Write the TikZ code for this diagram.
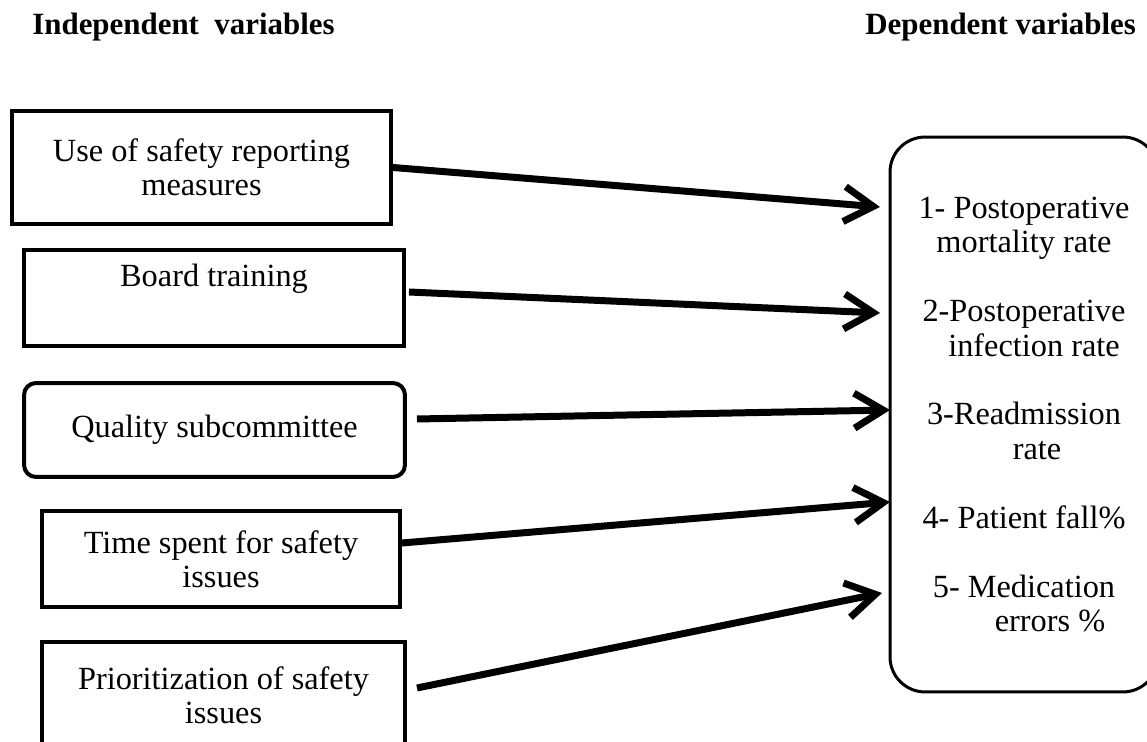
\documentclass[tikz,border=0pt]{standalone}
\usepackage{fontspec}
\setmainfont{Liberation Serif}
\usetikzlibrary{arrows.meta,positioning,calc}
\tikzset{
block/.style = {draw, line width=0.08cm, rectangle, align=center, inner sep=0pt, font=\fontsize{18.4}{19.6}\selectfont},
rblock/.style = {block, rounded corners=0.24cm},
outbox/.style = {draw, line width=0.06cm, rectangle, rounded corners=0.7cm, align=center, inner sep=0pt, font=\fontsize{18.4}{19.6}\selectfont},
head/.style = {inner sep=0pt, font=\bfseries\fontsize{17.6}{20}\selectfont},
link/.style = {-{Straight Barb[length=0.58cm,width=0.7cm]}, line width=0.14cm}
}
\begin{document}
\begin{tikzpicture}[x=0.02cm, y=-0.02cm]
  \useasboundingbox (0,0) rectangle (1147,742);
  \clip (0,0) rectangle (1147,742);

  \node [head, anchor=base west]                           (indep)  at (32,35)       {Independent~ variables};
  \node [head, anchor=base west]                           (dep)    at (865,35)      {Dependent variables};

  \node [block, minimum width=7.58cm, minimum height=2.26cm] (usea)   at (201.5,167.5) {Use of safety reporting\\measures};
  \node [block, minimum width=7.6cm, minimum height=1.92cm]  (board)  at (214,298)     {Board training\\ \strut};
  \node [rblock, minimum width=7.62cm, minimum height=1.88cm] (qsub)  at (214.5,430)   {Quality subcommittee};
  \node [block, minimum width=7.16cm, minimum height=1.92cm] (tspent) at (221,559)     {Time spent for safety\\issues};
  \node [block, minimum width=7.26cm, minimum height=2.12cm] (prior)  at (223.5,695)   {Prioritization of safety\\issues};

  \node [outbox, minimum width=5.36cm, minimum height=11.1cm] (dvar)  at (1024,414.5)
    {1- Postoperative\\mortality rate\\[19.6pt]
     2-Postoperative\\\hspace{0.4cm}infection rate\\[19.6pt]
     3-Readmission\\\hspace{0.52cm}rate\\[19.6pt]
     4- Patient fall\%\\[19.6pt]
     5- Medication\\\hspace{1.04cm}errors \%};

  \coordinate (t1) at (880,207);
  \coordinate (t2) at (880,313);
  \coordinate (t3) at (890,410);
  \coordinate (t4) at (890,502);
  \coordinate (t5) at (882,593);

  \draw [link] (usea.east) -- (t1);
  \draw [link] ($(board.east)+(3,-6)$) -- (t2);
  \draw [link] ($(qsub.east)+(10,-11)$) -- (t3);
  \draw [link] ($(tspent.east)+(0,-16)$) -- (t4);
  \draw [link] ($(prior.east)+(10,-7)$) -- (t5);
\end{tikzpicture}
\end{document}
